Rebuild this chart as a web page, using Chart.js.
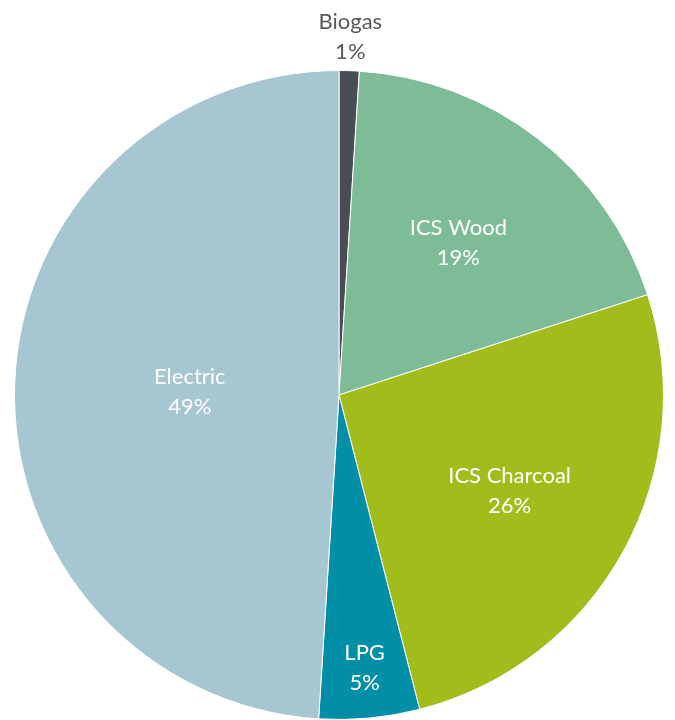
<!DOCTYPE html>
<html lang="en">
<head>
<meta charset="UTF-8">
<title>Cooking fuel share</title>
<script src="https://cdn.jsdelivr.net/npm/chart.js"></script>
<style>
  html, body { margin: 0; padding: 0; background: #fff; }
  #wrap { width: 675px; height: 720px; position: relative; }
</style>
</head>
<body>
<div id="wrap"><canvas id="pieChart"></canvas></div>
<script>
// fuel categories, clockwise from 12 o'clock
const fuels = ['Biogas', 'ICS Wood', 'ICS Charcoal', 'LPG', 'Electric'];
const shares = [1, 19, 26, 5, 49];
const sliceColors = ['#4a4d55', '#7dbc97', '#a2bc1c', '#008fa6', '#a6c6d2'];

// label placement: distance from centre as a fraction of the radius
const labelRadius = [1.11, 0.6, 0.6, 0.84, 0.46];
const labelColors = ['#595959', '#fff', '#fff', '#fff', '#fff'];

const sliceLabels = {
  id: 'sliceLabels',
  afterDatasetsDraw(chart) {
    const ctx = chart.ctx;
    const meta = chart.getDatasetMeta(0);
    ctx.save();
    ctx.font = '22px Lato, "Open Sans", sans-serif';
    ctx.textAlign = 'center';
    ctx.textBaseline = 'middle';
    meta.data.forEach((arc, i) => {
      const mid = (arc.startAngle + arc.endAngle) / 2;
      const r = arc.outerRadius * labelRadius[i];
      const x = arc.x + Math.cos(mid) * r;
      const y = arc.y + Math.sin(mid) * r + 2;
      ctx.fillStyle = labelColors[i];
      ctx.fillText(fuels[i], x, y - 15);
      ctx.fillText(shares[i] + '%', x, y + 15);
    });
    ctx.restore();
  }
};

new Chart(document.getElementById('pieChart'), {
  type: 'pie',
  data: {
    labels: fuels,
    datasets: [{
      data: shares,
      backgroundColor: sliceColors,
      borderColor: '#ffffff',
      borderWidth: 1
    }]
  },
  plugins: [sliceLabels],
  options: {
    responsive: true,
    maintainAspectRatio: false,
    animation: false,
    layout: { padding: { top: 70, left: 14, right: 11, bottom: 0 } },
    plugins: {
      legend: { display: false },
      tooltip: { enabled: false }
    }
  }
});
</script>
</body>
</html>
